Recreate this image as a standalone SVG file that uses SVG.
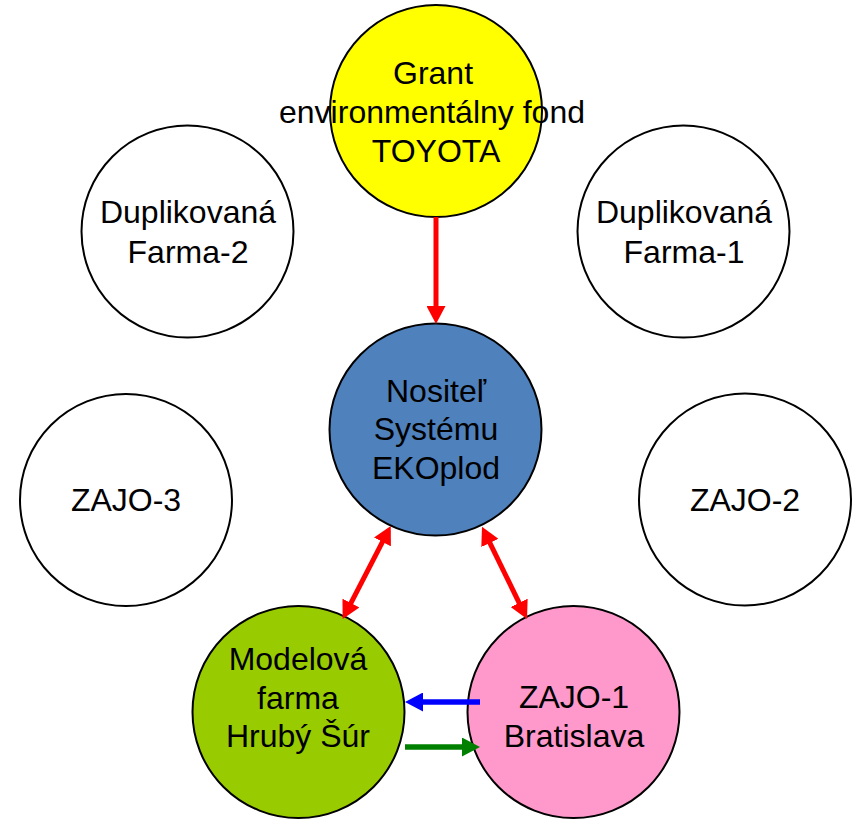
<svg xmlns="http://www.w3.org/2000/svg" width="858" height="819" viewBox="0 0 858 819">
  <style>
    .node { stroke: #000; stroke-width: 2; }
    .lbl { font-family: "Liberation Sans", Arial, sans-serif; font-size: 32px; fill: #000; text-anchor: middle; }
    .red { stroke: #FF0000; stroke-width: 5; fill: none; }
    .blue { stroke: #0000FF; stroke-width: 5.5; fill: none; }
    .green { stroke: #008000; stroke-width: 5.5; fill: none; }
  </style>
  <defs>
    <marker id="ahRed" markerUnits="userSpaceOnUse" markerWidth="19" markerHeight="19" viewBox="0 0 19 19" refX="2" refY="9.5" orient="auto-start-reverse">
      <path d="M0,0 L18,9.5 L0,19 z" fill="#FF0000"/>
    </marker>
    <marker id="ahBlue" markerUnits="userSpaceOnUse" markerWidth="19" markerHeight="19" viewBox="0 0 19 19" refX="2" refY="9.5" orient="auto">
      <path d="M0,0 L18,9.5 L0,19 z" fill="#0000FF"/>
    </marker>
    <marker id="ahGreen" markerUnits="userSpaceOnUse" markerWidth="19" markerHeight="19" viewBox="0 0 19 19" refX="2" refY="9.5" orient="auto">
      <path d="M0,0 L18,9.5 L0,19 z" fill="#008000"/>
    </marker>
  </defs>
  <rect width="858" height="819" fill="#FFFFFF"/>

  <g id="grant">
    <circle class="node" cx="436" cy="111" r="106" fill="#FFFF00"/>
    <text class="lbl" x="433" y="84">Grant</text>
    <text class="lbl" x="432" y="123">environmentálny fond</text>
    <text class="lbl" x="436" y="162">TOYOTA</text>
  </g>
  <g id="farma2">
    <circle class="node" cx="187.5" cy="231.5" r="106" fill="#FFFFFF"/>
    <text class="lbl" x="188" y="223">Duplikovaná</text>
    <text class="lbl" x="188" y="263">Farma-2</text>
  </g>
  <g id="farma1">
    <circle class="node" cx="683.5" cy="231.5" r="106" fill="#FFFFFF"/>
    <text class="lbl" x="684" y="223">Duplikovaná</text>
    <text class="lbl" x="684" y="263">Farma-1</text>
  </g>
  <g id="nositel">
    <circle class="node" cx="435.5" cy="429.5" r="106" fill="#4F81BD"/>
    <text class="lbl" x="436" y="402">Nositeľ</text>
    <text class="lbl" x="436" y="440">Systému</text>
    <text class="lbl" x="436" y="479">EKOplod</text>
  </g>
  <g id="zajo3">
    <circle class="node" cx="126" cy="500" r="106" fill="#FFFFFF"/>
    <text class="lbl" x="126" y="511">ZAJO-3</text>
  </g>
  <g id="zajo2">
    <circle class="node" cx="745" cy="499.5" r="106" fill="#FFFFFF"/>
    <text class="lbl" x="745" y="511">ZAJO-2</text>
  </g>
  <g id="modelova">
    <circle class="node" cx="298.5" cy="712" r="106" fill="#99CC00"/>
    <text class="lbl" x="298" y="670">Modelová</text>
    <text class="lbl" x="298" y="709">farma</text>
    <text class="lbl" x="298" y="747">Hrubý Šúr</text>
  </g>
  <g id="zajo1">
    <circle class="node" cx="573.5" cy="712" r="106" fill="#FF99CC"/>
    <text class="lbl" x="574" y="708">ZAJO-1</text>
    <text class="lbl" x="574" y="747">Bratislava</text>
  </g>

  <g id="connectors">
    <line class="red" x1="436" y1="217" x2="436" y2="308" marker-end="url(#ahRed)"/>
    <line class="red" x1="383.4" y1="540.2" x2="350.0" y2="604.8" marker-start="url(#ahRed)" marker-end="url(#ahRed)"/>
    <line class="red" x1="489.0" y1="541.1" x2="520.0" y2="604.6" marker-start="url(#ahRed)" marker-end="url(#ahRed)"/>
    <line class="blue" x1="480" y1="702" x2="421" y2="702" marker-end="url(#ahBlue)"/>
    <line class="green" x1="405" y1="747" x2="464" y2="747" marker-end="url(#ahGreen)"/>
  </g>
</svg>
